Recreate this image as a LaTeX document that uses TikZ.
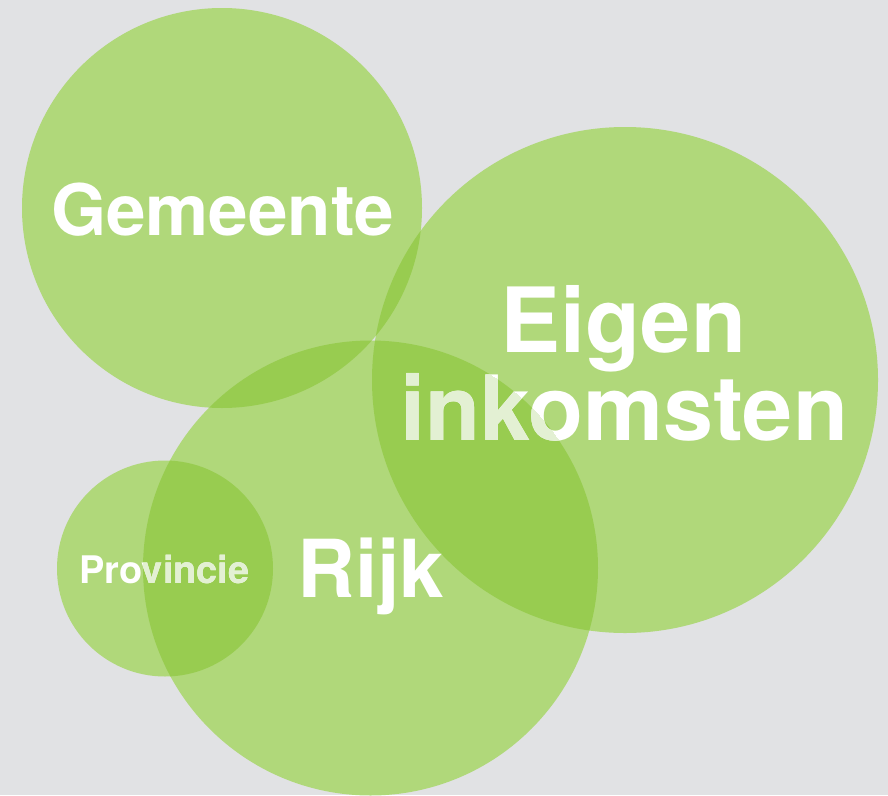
\documentclass[tikz,border=0pt]{standalone}
\usepackage{fontspec}
\setmainfont{TeX Gyre Heros}
\definecolor{bgc}{HTML}{E1E2E4}
\definecolor{one}{HTML}{B0D87A}
\definecolor{two}{HTML}{98CC50}
\definecolor{three}{HTML}{8AC43C}
\definecolor{washed}{HTML}{E3F0D3}
\begin{document}
\begin{tikzpicture}[x=1pt,y=-1pt,
  lbl/.style={text=white, inner sep=0pt, outer sep=0pt, anchor=base, font=\bfseries},
  wlbl/.style={lbl, text=washed}]
\fill[bgc] (0,0) rectangle (888,795);
\useasboundingbox (0,0) rectangle (888,795);
% circle centres
\coordinate (G) at (222,208);
\coordinate (E) at (625,380);
\coordinate (R) at (370.5,568);
\coordinate (P) at (165,568.5);
\def\rG{200}\def\rE{253}\def\rR{227.5}\def\rP{108}
% single fills
\fill[one] (G) circle[radius=\rG];
\fill[one] (E) circle[radius=\rE];
\fill[one] (R) circle[radius=\rR];
\fill[one] (P) circle[radius=\rP];
% pairwise overlaps
\begin{scope}\clip (G) circle[radius=\rG]; \fill[two] (E) circle[radius=\rE]; \fill[two] (R) circle[radius=\rR];\end{scope}
\begin{scope}\clip (E) circle[radius=\rE]; \fill[two] (R) circle[radius=\rR];\end{scope}
\begin{scope}\clip (P) circle[radius=\rP]; \fill[two] (R) circle[radius=\rR];\end{scope}
\begin{scope}\clip (G) circle[radius=\rG]; \clip (E) circle[radius=\rE]; \fill[three] (R) circle[radius=\rR];\end{scope}
% labels
\node[lbl] (gem) at (222.5,235) {\fontsize{71}{71}\selectfont Gemeente};
\node[lbl] (eig) at (623,352) {\fontsize{90}{90}\selectfont Eigen};
\node[lbl] (ink) at (624,440) {\fontsize{90}{90}\selectfont inkomsten};
\node[lbl] (pro) at (164.5,583) {\fontsize{38}{38}\selectfont Provincie};
\node[lbl] (rijk) at (371,597) {\fontsize{80}{80}\selectfont Rijk};
% text seen through the Rijk circle
\begin{scope}
\clip (R) circle[radius=\rR];
\node[wlbl] (inkw) at (624,440) {\fontsize{90}{90}\selectfont inkomsten};
\node[wlbl] (prow) at (164.5,583) {\fontsize{38}{38}\selectfont Provincie};
\end{scope}
\end{tikzpicture}
\end{document}
